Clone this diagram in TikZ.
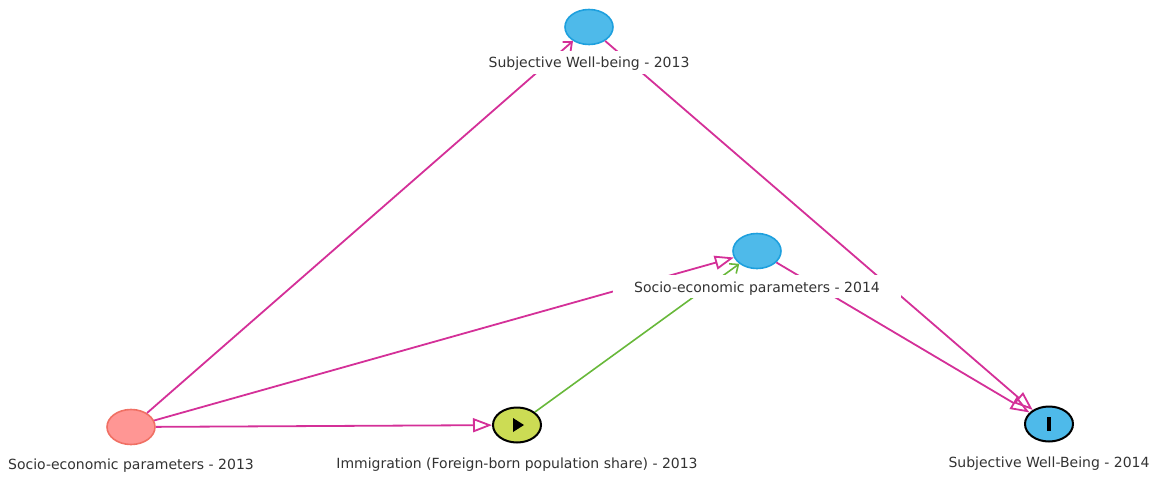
\documentclass[tikz,border=0pt]{standalone}
\usepackage{fontspec}
\setmainfont{DejaVu Sans}
\usetikzlibrary{positioning, shapes.geometric, arrows.meta, calc}
\definecolor{edgeColor}{RGB}{212,48,152}
\definecolor{causeColor}{RGB}{104,184,58}
\definecolor{outcomeFill}{RGB}{78,186,234}
\definecolor{outcomeBorder}{RGB}{30,160,222}
\definecolor{adjustedFill}{RGB}{255,150,148}
\definecolor{adjustedBorder}{RGB}{240,112,100}
\definecolor{exposureFill}{RGB}{204,220,84}
\tikzstyle{diagram} = [x = 1pt, y = -1pt]
\tikzstyle{varStyle} = [ellipse, minimum width = 48pt, minimum height = 35pt, inner sep = 0pt, line width = 1.6pt]
\tikzstyle{latentVar} = [varStyle, fill=outcomeFill, draw=outcomeBorder]
\tikzstyle{adjustedVar} = [varStyle, fill=adjustedFill, draw=adjustedBorder]
\tikzstyle{exposureVar} = [varStyle, fill=exposureFill, draw=black, line width = 2pt]
\tikzstyle{outcomeVar} = [varStyle, fill=outcomeFill, draw=black, line width = 2pt]
\tikzstyle{varText} = [fill=white, inner xsep = 21pt, inner ysep = 5pt, text height = 12pt, text depth = 1pt, font=\fontsize{14}{16}\selectfont, text=black!80]
\tikzstyle{biasEdge} = [color=edgeColor, line width = 1.8pt, -{Triangle[open, length = 19pt, width = 14pt]}]
\tikzstyle{causalEdge} = [color=causeColor, line width = 1.6pt, -{Straight Barb[length = 7pt, width = 12pt]}]
\newcommand{\varLabel}[3]{\node [varText, below = #2 of #1] {#3};}

\begin{document}
\begin{tikzpicture}[diagram]
  \useasboundingbox (0,0) rectangle (1159,477);
  \node [adjustedVar] (seOld) at (131,427) {};
  \node [exposureVar] (immOld) at (517,425) {};
  \node [outcomeVar] (swbNew) at (1049,424) {};
  \node [latentVar] (swbOld) at (589,27) {};
  \node [latentVar] (seNew) at (757,251) {};

  % glyphs inside the marked variables
  \fill [black] ($(immOld) + (-4,-7)$) -- ++(11,7) -- ++(-11,7) -- cycle;
  \fill [black] ($(swbNew) + (-2,-7)$) rectangle +(4,14);

  \draw [biasEdge, -{Straight Barb[length = 7pt, width = 12pt]}] (seOld) -- (swbOld);
  \draw [biasEdge] (seOld) -- (seNew);
  \draw [biasEdge] (seOld) -- (immOld);
  \draw [causalEdge] (immOld) -- (seNew);
  \draw [biasEdge] (swbOld) -- (swbNew);
  \draw [biasEdge] (seNew) -- (swbNew);

  \varLabel{seOld}{6.5pt}{Socio-economic parameters - 2013}
  \varLabel{immOld}{7.5pt}{Immigration (Foreign-born population share) - 2013}
  \varLabel{swbNew}{7.5pt}{Subjective Well-Being - 2014}
  \varLabel{swbOld}{5pt}{Subjective Well-being - 2013}
  \varLabel{seNew}{5.5pt}{Socio-economic parameters - 2014}
\end{tikzpicture}
\end{document}
